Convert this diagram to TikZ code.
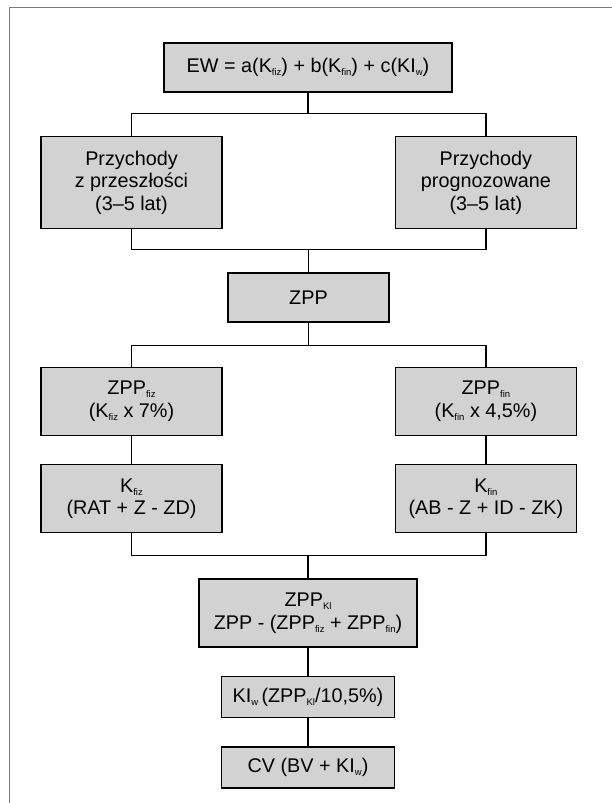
\documentclass[tikz,border=0pt]{standalone}
\usepackage{fontspec}
\setmainfont{Liberation Sans}
\usepackage{xcolor}
\usepackage{tikz}
\usetikzlibrary{positioning}
\definecolor{cvgray}{HTML}{D2D2D2}
\definecolor{cvframe}{HTML}{7A7A7A}
\newcommand{\sub}[1]{\raisebox{-3pt}{\fontsize{9.5}{9.5}\selectfont #1}}

\begin{document}
\begin{tikzpicture}[
  x=1pt,y=1pt,
  box/.style={draw=black,line width=1.4pt,fill=cvgray,align=center,inner sep=0pt,
              font=\fontsize{19.8}{22.5}\selectfont},
  wide/.style={box,minimum width=181pt},
  link/.style={line width=1.2pt,black},
  frame/.style={line width=0.8pt,cvframe}
]
  \useasboundingbox (0,0) rectangle (612,-803);
  \draw[frame] (9,-803) -- (9,-7.5) -- (612,-7.5);

  \node[box,minimum width=288pt,minimum height=49pt] (ew) at (308,-67.5)
    {EW = a(K\sub{fiz}) + b(K\sub{fin}) + c(KI\sub{w})};
  \node[wide,minimum height=92pt,below=43pt of ew,xshift=-176.5pt] (past)
    {Przychody\\z przeszłości\\(3–5 lat)};
  \node[wide,minimum height=92pt,right=172pt of past] (fut)
    {Przychody\\prognozowane\\(3–5 lat)};
  \node[box,minimum width=161pt,minimum height=49pt,below=43pt of past,xshift=177pt] (zpp) {ZPP};
  \node[wide,minimum height=68pt,below=44pt of zpp,xshift=-177pt] (zfiz)
    {ZPP\sub{fiz}\\(K\sub{fiz} x 7\%)};
  \node[wide,minimum height=68pt,right=172pt of zfiz] (zfin)
    {ZPP\sub{fin}\\(K\sub{fin} x 4,5\%)};
  \node[wide,minimum height=68pt,below=28pt of zfiz] (kfiz)
    {K\sub{fiz}\\(RAT + Z - ZD)};
  \node[wide,minimum height=68pt,below=28pt of zfin] (kfin)
    {K\sub{fin}\\(AB - Z + ID - ZK)};
  \node[box,minimum width=218pt,minimum height=68pt,below=45pt of kfiz,xshift=176.5pt] (zkl)
    {ZPP\sub{Kl}\\ZPP - (ZPP\sub{fiz} + ZPP\sub{fin})};
  \node[box,minimum width=173pt,minimum height=41pt,below=28pt of zkl] (klw)
    {KI\sub{w}\,(ZPP\sub{Kl}/10,5\%)};
  \node[box,minimum width=173pt,minimum height=41pt,below=28pt of klw] (cv)
    {CV (BV + KI\sub{w})};

  % junction points of the tree
  \coordinate[below=21pt of ew.south] (split1);
  \coordinate[above=23pt of zpp.north] (join1);
  \coordinate[below=23pt of zpp.south] (split2);
  \coordinate[above=23pt of zkl.north] (join2);

  \draw[link] (ew.south) -- (split1) -| (past.north);
  \draw[link] (split1) -| (fut.north);
  \draw[link] (past.south) |- (join1) -| (fut.south);
  \draw[link] (join1) -- (zpp.north);
  \draw[link] (zpp.south) -- (split2) -| (zfiz.north);
  \draw[link] (split2) -| (zfin.north);
  \draw[link] (zfiz) -- (kfiz);
  \draw[link] (zfin) -- (kfin);
  \draw[link] (kfiz.south) |- (join2) -| (kfin.south);
  \draw[link] (join2) -- (zkl.north);
  \draw[link] (zkl) -- (klw);
  \draw[link] (klw) -- (cv);
\end{tikzpicture}
\end{document}
